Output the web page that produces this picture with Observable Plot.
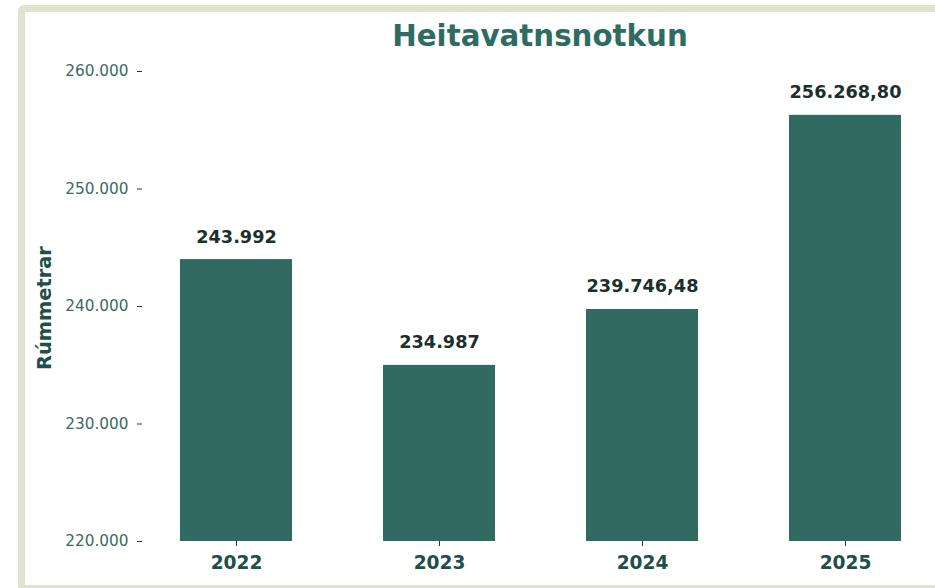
<!DOCTYPE html>
<html>
<head>
<meta charset="utf-8">
<script src="https://cdn.jsdelivr.net/npm/d3@7"></script>
<script src="https://cdn.jsdelivr.net/npm/@observablehq/plot@0.6"></script>
<style>
  html, body { margin: 0; padding: 0; background: #ffffff; overflow: hidden; width: 935px; height: 588px; }
  body { position: relative; font-family: "DejaVu Sans", sans-serif; }
  #frame { position: absolute; left: 18px; top: 5px; width: 960px; height: 587px; box-sizing: border-box;
           border: 7px solid #e2e2d0; border-radius: 6px; background: #ffffff; }
  #chart { position: absolute; left: 0; top: 0; width: 940px; height: 588px; }
  #chart svg { max-width: none !important; }
  #title { position: absolute; left: 540px; top: 22px; transform: translateX(-50%); white-space: nowrap;
           font-family: "DejaVu Sans", sans-serif; font-weight: bold; font-size: 29.3px; line-height: 29px; color: #2e6b62; }
  #ylabel { position: absolute; left: 44px; top: 308px; width: 0; height: 0; }
  #ylabel span { position: absolute; left: 0; top: 0; transform: translate(-50%, -50%) rotate(-90deg); white-space: nowrap;
           font-family: "DejaVu Sans", sans-serif; font-weight: bold; font-size: 19.4px; line-height: 19px; color: #1f4f4a; }
</style>
</head>
<body>
<div id="frame"></div>
<div id="chart"></div>
<div id="title">Heitavatnsnotkun</div>
<div id="ylabel"><span>Rúmmetrar</span></div>
<script>
const years = ["2022", "2023", "2024", "2025"];
const values = [243992, 234987, 239746.48, 256268.80];
const valueLabels = ["243.992", "234.987", "239.746,48", "256.268,80"];
const yTicks = [220000, 230000, 240000, 250000, 260000];
const yTickLabels = ["220.000", "230.000", "240.000", "250.000", "260.000"];
const yMin = 220000, yMax = 260000;

const data = years.map((y, i) => ({year: y, value: values[i], label: valueLabels[i], base: yMin}));

const chart = Plot.plot({
  width: 940,
  height: 588,
  marginLeft: 142,
  marginRight: 2,
  marginTop: 71,
  marginBottom: 47,
  style: {background: "transparent", fontFamily: "DejaVu Sans, sans-serif", overflow: "visible", maxWidth: "none"},
  x: {domain: years, type: "band", paddingInner: 0.45, paddingOuter: 0.1775, label: null},
  y: {domain: [yMin, yMax], label: null},
  marks: [
    Plot.barY(data, {x: "year", y1: "base", y2: "value", fill: "#306a61"}),
    Plot.text(data, {x: "year", y: "value", text: "label", lineAnchor: "bottom", dy: -17,
      fontSize: 17.7, fontWeight: "bold", fill: "#1b2f2c"}),
    Plot.axisY({ticks: yTicks, tickFormat: (d) => yTickLabels[yTicks.indexOf(d)], tickSize: 5, tickPadding: 9,
      fontSize: 15.3, fill: "#3a6b63", stroke: "#333333", label: null}),
    Plot.axisX({tickSize: 5, tickPadding: 9, fontSize: 18.6, fontWeight: "bold", fill: "#1f4f4a", stroke: "#333333", label: null})
  ]
});
document.getElementById("chart").appendChild(chart);
</script>
</body>
</html>
